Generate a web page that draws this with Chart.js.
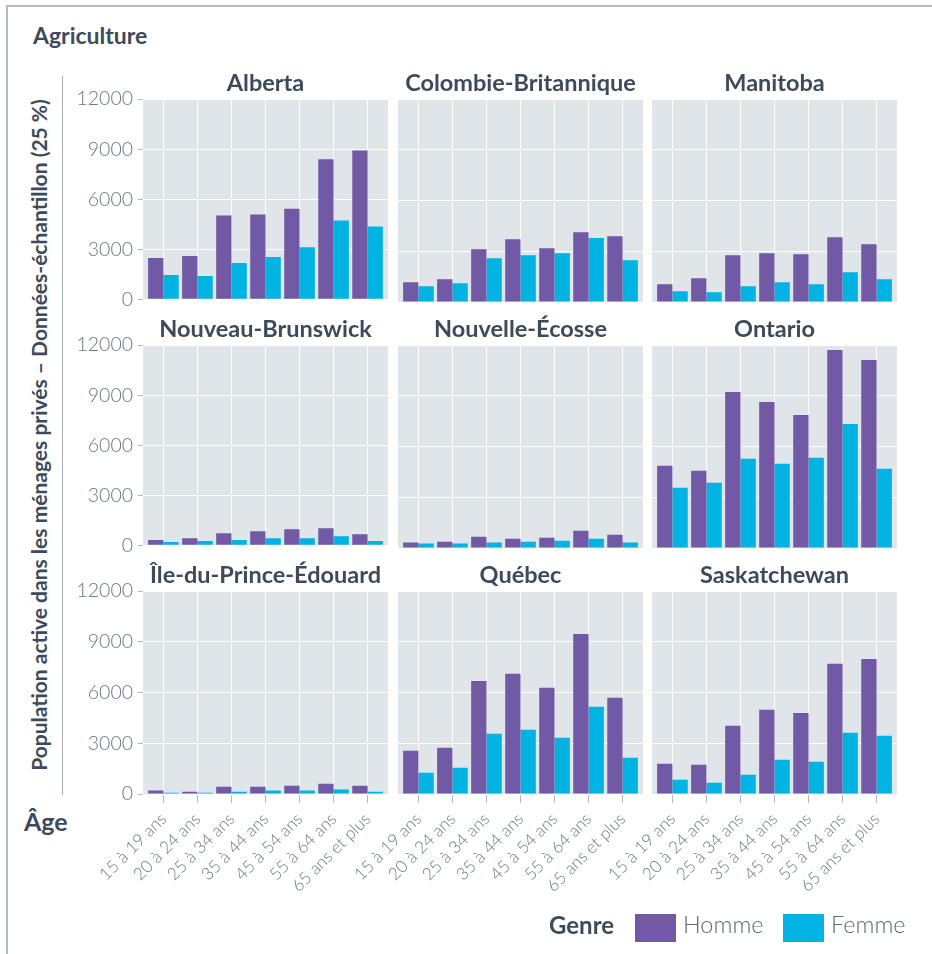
<!DOCTYPE html>
<html lang="fr">
<head>
<meta charset="utf-8">
<title>Agriculture</title>
<script src="https://cdn.jsdelivr.net/npm/chart.js@4.4.0/dist/chart.umd.min.js"></script>
<style>
    html, body { margin: 0; padding: 0; background: #fff; }
    body { width: 932px; height: 954px; position: relative; overflow: hidden; font-family: Lato, "Noto Sans", sans-serif; }
    .bord-haut { position: absolute; left: 6px; top: 5px; width: 926px; height: 2px; background: #b4bcc3; }
    .bord-gauche { position: absolute; left: 6px; top: 5px; width: 2px; height: 949px; background: #b4bcc3; }
    .titre { position: absolute; left: 33px; top: 21px; font-size: 23px; font-weight: 700; color: #3d4a5a; }
    .y-titre { position: absolute; left: 38px; top: 435px; transform: translate(-50%, -50%) rotate(-90deg); white-space: nowrap; font-size: 21px; font-weight: 700; color: #3d4a5a; }
    .y-ligne { position: absolute; left: 62px; top: 76px; width: 1px; height: 719px; background: #a7afb7; }
    .age { position: absolute; left: 24px; top: 806px; font-size: 25px; font-weight: 700; color: #3d4a5a; }
    .leg { position: absolute; white-space: nowrap; }
    .leg.genre { left: 549px; top: 910px; font-size: 24px; font-weight: 700; color: #3d4a5a; }
    .leg.carre { top: 914px; width: 41px; height: 28px; }
    .leg.lib { top: 910px; font-size: 23.5px; font-weight: 300; color: #5d6977; }
</style>
</head>
<body>
<div class="bord-haut"></div>
<div class="bord-gauche"></div>
<div class="titre">Agriculture</div>
<div class="y-ligne"></div>
<div class="y-titre">Population active dans les ménages privés – Données-échantillon (25 %)</div>
<div class="age">Âge</div>
<div id="panneaux"></div>
<span class="leg genre">Genre</span>
<span class="leg carre" style="left:635px; background:#7159a5"></span>
<span class="leg lib" style="left:683px">Homme</span>
<span class="leg carre" style="left:783px; background:#00b3e2"></span>
<span class="leg lib" style="left:831px">Femme</span>

<script>
// Données
const AGES = ['15 à 19 ans', '20 à 24 ans', '25 à 34 ans', '35 à 44 ans', '45 à 54 ans', '55 à 64 ans', '65 ans et plus'];
const PROVINCES = ['Alberta', 'Colombie-Britannique', 'Manitoba', 'Nouveau-Brunswick', 'Nouvelle-Écosse', 'Ontario', 'Île-du-Prince-Édouard', 'Québec', 'Saskatchewan'];
const HOMME = [
    [2470, 2590, 5020, 5080, 5430, 8400, 8930],
    [1170, 1340, 3120, 3720, 3180, 4130, 3890],
    [1050, 1400, 2770, 2890, 2830, 3830, 3420],
    [320, 430, 730, 850, 970, 1020, 670],
    [320, 370, 670, 550, 610, 1020, 790],
    [4860, 4570, 9230, 8640, 7870, 11710, 11120],
    [200, 140, 430, 430, 490, 610, 490],
    [2560, 2740, 6690, 7110, 6280, 9470, 5690],
    [1790, 1730, 4040, 4980, 4800, 7700, 7990]
];
const FEMME = [
    [1460, 1400, 2170, 2530, 3120, 4720, 4370],
    [930, 1110, 2590, 2770, 2890, 3780, 2470],
    [630, 570, 930, 1170, 1050, 1760, 1340],
    [200, 260, 320, 430, 430, 550, 260],
    [260, 260, 320, 370, 430, 550, 320],
    [3560, 3860, 5280, 4980, 5340, 7340, 4690],
    [80, 80, 140, 200, 200, 260, 140],
    [1260, 1560, 3560, 3800, 3330, 5160, 2150],
    [850, 670, 1140, 2030, 1910, 3620, 3450]
];
const Y_TICKS = [0, 3000, 6000, 9000, 12000];

// Mise en page des facettes
const PLOT_LEFT = [143, 398, 652];
const PLOT_TOP = [99, 345, 591];
const PLOT_W = 245;
const PLOT_H = 203;
const AXE_Y = 83;
const TITRE_H = 30;
const MARGE_D = 10;

const GRIS_TEXTE = '#6b7785';
const GRIS_TICK = '#b0b8c0';

// fond gris de la zone de tracé
const fondPlugin = {
    id: 'fond',
    beforeDraw: function(chart) {
        const a = chart.chartArea;
        const ctx = chart.ctx;
        ctx.save();
        ctx.fillStyle = '#dfe5e9';
        ctx.fillRect(a.left, a.top, a.right - a.left, a.bottom - a.top);
        ctx.restore();
    }
};

const Facettes = {
    init: function() {
        Facettes.initCharts();
    },

    initCharts: function() {
        const zone = document.getElementById('panneaux');
        PROVINCES.forEach(function(nom, k) {
            Facettes.createPanel(zone, nom, k);
        });
    },

    createPanel: function(zone, nom, k) {
        const col = k % 3;
        const row = Math.floor(k / 3);
        const bas = row === 2;
        const gauche = col === 0;
        const xH = bas ? 120 : 14;

        const div = document.createElement('div');
        div.style.position = 'absolute';
        div.style.left = (PLOT_LEFT[col] - AXE_Y) + 'px';
        div.style.top = (PLOT_TOP[row] - TITRE_H) + 'px';
        const canvas = document.createElement('canvas');
        canvas.width = AXE_Y + PLOT_W + MARGE_D;
        canvas.height = TITRE_H + PLOT_H + xH;
        div.appendChild(canvas);
        zone.appendChild(div);

        new Chart(canvas, {
            type: 'bar',
            data: {
                datasets: [{
                    label: 'Homme',
                    data: HOMME[k].map((v, i) => ({ x: i + 1, y: v })),
                    backgroundColor: '#7159a5'
                }, {
                    label: 'Femme',
                    data: FEMME[k].map((v, i) => ({ x: i + 1, y: v })),
                    backgroundColor: '#00b3e2'
                }]
            },
            options: {
                responsive: false,
                animation: false,
                events: [],
                categoryPercentage: 0.9,
                barPercentage: 1,
                layout: { padding: { right: MARGE_D } },
                plugins: {
                    legend: { display: false },
                    tooltip: { enabled: false },
                    title: {
                        display: true,
                        text: nom,
                        fullSize: false,
                        color: '#3d4a5a',
                        font: { family: 'Lato', size: 23.5, weight: 'bold', lineHeight: 1.2 },
                        padding: { top: 0, bottom: 2 }
                    }
                },
                scales: {
                    x: {
                        type: 'linear',
                        min: 0.4,
                        max: 7.6,
                        offset: false,
                        afterBuildTicks: function(s) {
                            s.ticks = AGES.map((a, i) => ({ value: i + 1 }));
                        },
                        afterFit: function(s) { s.height = xH; },
                        grid: {
                            offset: false,
                            color: '#ffffff',
                            lineWidth: 1,
                            drawTicks: bas,
                            tickLength: 9,
                            tickColor: GRIS_TICK
                        },
                        border: { display: false },
                        ticks: {
                            display: bas,
                            autoSkip: false,
                            minRotation: 45,
                            maxRotation: 45,
                            padding: 6,
                            color: GRIS_TEXTE,
                            font: { family: 'Lato', size: 17, weight: 300 },
                            callback: function(v) { return AGES[v - 1]; }
                        }
                    },
                    y: {
                        min: 0,
                        max: 12000,
                        afterBuildTicks: function(s) {
                            s.ticks = Y_TICKS.map(v => ({ value: v }));
                        },
                        afterFit: function(s) { s.width = AXE_Y; },
                        grid: {
                            color: '#ffffff',
                            lineWidth: 1,
                            drawTicks: gauche,
                            tickLength: 5,
                            tickColor: GRIS_TICK
                        },
                        border: { display: false },
                        ticks: {
                            display: gauche,
                            padding: 5,
                            color: GRIS_TEXTE,
                            font: { family: 'Lato', size: 19.5, weight: 300 },
                            callback: function(v) { return String(v); }
                        }
                    }
                }
            },
            plugins: [fondPlugin]
        });
    }
};

Facettes.init();
</script>
</body>
</html>
